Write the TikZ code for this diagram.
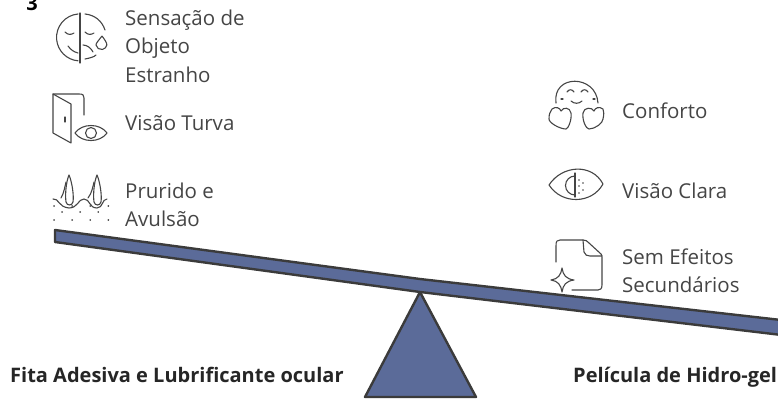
\documentclass[tikz,border=0pt]{standalone}
\usepackage{fontspec}
\setmainfont{Open Sans}
\definecolor{ink}{HTML}{454545}
\definecolor{beam}{HTML}{5B6B99}
\tikzset{
  lab/.style={font=\fontsize{20.5}{28.5}\selectfont,text=ink,anchor=west,align=left,inner sep=0pt},
  blab/.style={font=\fontsize{20}{24}\selectfont\bfseries,text=black!85,anchor=base west,inner sep=0pt},
  ic/.style={draw=ink,line width=1.1pt,line cap=round,line join=round,fill=none},
  solidp/.style={draw=ink!85!black,line width=2.4pt,fill=beam,line join=round},
}
\begin{document}
\begin{tikzpicture}[x=1pt,y=-1pt]
\useasboundingbox (0,0) rectangle (778,399);
\clip (0,0) rectangle (778,399);
% seesaw
\path[solidp] (420,292) -- (365,397) -- (476,397) -- cycle;
\path[solidp] (55,230) -- (420,279) -- (790,321) -- (790,336) -- (420,292) -- (55,242) -- cycle;
% clipped mark
\node[font=\fontsize{20}{24}\selectfont\bfseries,text=black,inner sep=0pt,anchor=base] (mark) at (32,10) {3};
% face
\draw[ic] (80,13) -- (80,63);
\draw[ic] (78,14) arc[start angle=-95,end angle=-265,radius=23.5];
\draw[ic] (85,14) .. controls (95,15) and (102,21) .. (105,30);
\draw[ic] (85,59) .. controls (90,58) and (94,57) .. (96,55);
\draw[ic] (65,32) .. controls (68,35) and (71,35) .. (74,33);
\draw[ic] (85,32) .. controls (88,35) and (91,35) .. (94,33);
\draw[ic] (68,46) .. controls (71,50) and (74,52) .. (78,53);
\draw[ic] (83,45) .. controls (87,45) and (91,48) .. (93,52);
\draw[ic] (102,36) .. controls (99,40) and (96,43) .. (96,45) arc[start angle=170,end angle=10,radius=5.5] .. controls (107,43) and (105,40) .. (102,36);
% door + eye
\draw[ic] (53,94) -- (79,94) .. controls (83,94) and (84,95) .. (84,98) -- (84,115);
\draw[ic] (53,94) -- (53,133) -- (71,143) -- (71,104) -- cycle;
\draw[ic] (65,117) -- (65,122);
\draw[ic] (75,133) .. controls (82,123) and (100,123) .. (107,133) .. controls (100,143) and (82,143) .. (75,133) -- cycle;
\draw[ic] (91,133) circle[radius=5.5];
% hair/skin
\draw[ic] (69,175) .. controls (66,182) and (65,195) .. (66,202) .. controls (67,206) and (72,206) .. (73,202) .. controls (74,195) and (72,182) .. (69,175) -- cycle;
\draw[ic] (97,175) .. controls (94,182) and (93,195) .. (94,202) .. controls (95,206) and (100,206) .. (101,202) .. controls (102,195) and (100,182) .. (97,175) -- cycle;
\draw[ic] (61,198) .. controls (64,193) and (65,186) .. (66,182);
\draw[ic] (88,198) .. controls (92,193) and (93,186) .. (94,182);
\draw[ic] (53,199) .. controls (59,198) and (58,207) .. (69,208) .. controls (78,208) and (78,199) .. (84,199) .. controls (90,199) and (89,208) .. (97,208) .. controls (103,208) and (102,199) .. (107,199);
\draw[ic,dash pattern=on 0.1pt off 18pt,line width=1.7pt] (54,206) -- (110,206);
\draw[ic,dash pattern=on 0.1pt off 18pt,line width=1.7pt] (62,212) -- (110,212);
\draw[ic,dash pattern=on 0.1pt off 18pt,line width=1.7pt] (54,220) -- (110,220);
% comfort
\draw[ic] (556,103) .. controls (552,74) and (596,74) .. (598,103);
\draw[ic] (567,92) .. controls (569,89) and (572,89) .. (574,92);
\draw[ic] (581,92) .. controls (583,89) and (586,89) .. (588,92);
\draw[ic] (571,101) .. controls (574,104) and (579,104) .. (582,101);
\draw[ic] (561,99) -- (563,99) (593,99) -- (595,99);
\draw[ic] (552,109) .. controls (556,106) and (560,108) .. (561,111) .. controls (563,107) and (570,107) .. (571,113) .. controls (572,120) and (568,129) .. (566,129) .. controls (560,129) and (549,123) .. (549,119) .. controls (549,114) and (550,112) .. (552,109) -- cycle;
\draw[ic] (603,109) .. controls (599,106) and (595,108) .. (594,111) .. controls (592,107) and (584,107) .. (583,113) .. controls (582,120) and (586,129) .. (589,129) .. controls (595,129) and (603,123) .. (603,119) .. controls (604,114) and (604,112) .. (603,109) -- cycle;
% clear eye
\draw[ic] (549,185) .. controls (562,165) and (592,163) .. (603,184) .. controls (592,204) and (562,205) .. (549,185) -- cycle;
\draw[ic] (575,176) arc[start angle=270,end angle=90,radius=9.5];
\draw[ic] (575,173) -- (575,197);
\foreach \p in {(579,180),(583,183),(579,186),(583,190),(579,193)} \fill[ink] \p circle[radius=0.9];
% document
\draw[ic] (556,262) -- (556,246) .. controls (556,241) and (557,240) .. (560,240) -- (583,240) .. controls (586,240) and (587,241) .. (589,243) -- (601,254) .. controls (602,255) and (602,256) .. (602,258) -- (602,285) .. controls (602,289) and (600,290) .. (598,290) -- (572,290);
\draw[ic] (583,240) -- (584,252) .. controls (585,255) and (587,256) .. (590,256) -- (602,256);
\draw[ic] (562,268) .. controls (563,275) and (566,279) .. (574,280) .. controls (566,281) and (563,285) .. (562,292) .. controls (561,285) and (558,281) .. (551,280) .. controls (558,279) and (561,275) .. (562,268) -- cycle;
% labels
\node[lab] (l1) at (125,46) {Sensação de\\Objeto\\Estranho};
\node[lab] (l2) at (125,123) {Visão Turva};
\node[lab] (l3) at (125,205) {Prurido e\\Avulsão};
\node[lab] (r1) at (622,111) {Conforto};
\node[lab] (r2) at (622,191) {Visão Clara};
\node[lab] (r3) at (622,271) {Sem Efeitos\\Secundários};
\node[blab] (bl) at (10,382) {Fita Adesiva e Lubrificante ocular};
\node[blab] (br) at (573,382) {Película de Hidro-gel};
\end{tikzpicture}
\end{document}
